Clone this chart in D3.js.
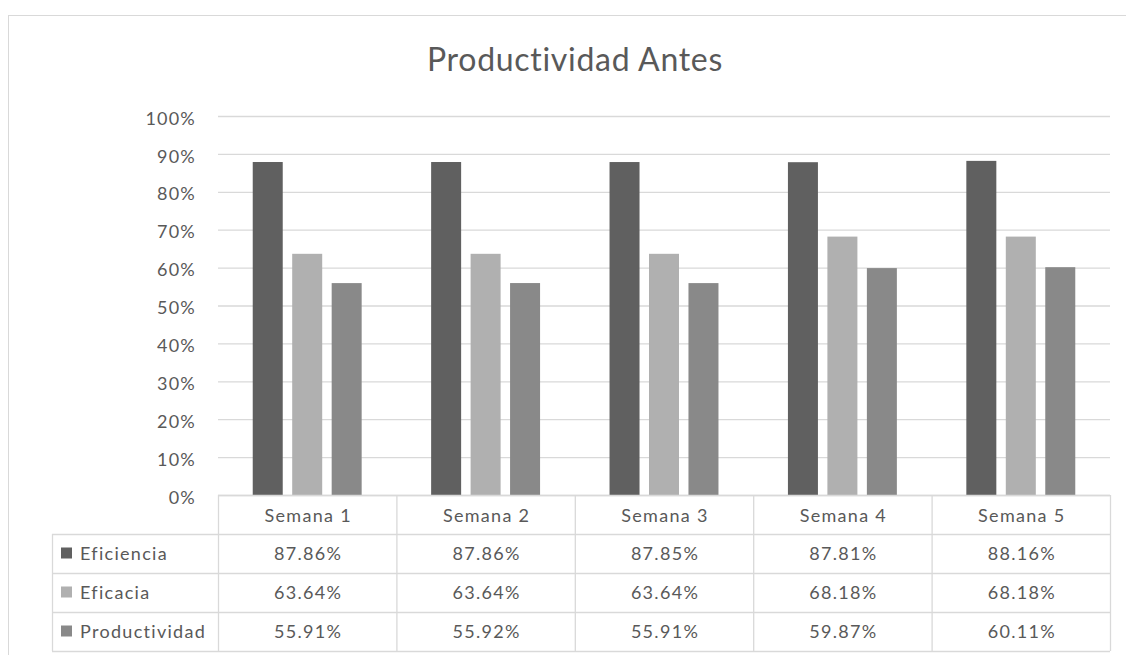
<!DOCTYPE html>
<html>
<head>
<meta charset="utf-8">
<script src="https://cdn.jsdelivr.net/npm/d3@7"></script>
<style>
  html, body { margin: 0; padding: 0; background: #ffffff; }
  svg { display: block; }
  text { font-family: Lato, "Open Sans", sans-serif; }
</style>
</head>
<body>
<svg id="chart" width="1126" height="655"></svg>
<script>
// Weekly productivity indicators (percent)
const weeks = ["Semana 1", "Semana 2", "Semana 3", "Semana 4", "Semana 5"];
const seriesNames = ["Eficiencia", "Eficacia", "Productividad"];
const eficiencia = [87.86, 87.86, 87.85, 87.81, 88.16];
const eficacia = [63.64, 63.64, 63.64, 68.18, 68.18];
const productividad = [55.91, 55.92, 55.91, 59.87, 60.11];
const yTicks = [0, 10, 20, 30, 40, 50, 60, 70, 80, 90, 100];
const colors = ["#606060", "#b0b0b0", "#898989"];
const chartTitle = "Productividad Antes";

const seriesValues = [eficiencia, eficacia, productividad];

const svg = d3.select("#chart");
const W = 1126, H = 655;

const plot = { left: 218, right: 1110, top: 116, bottom: 495 };
const rowH = 39;
const legendLeft = 52;
const textColor = "#595959";
const gridColor = "#d9d9d9";

// Outer chart frame
svg.append("rect")
  .attr("x", 8.5).attr("y", 15.5)
  .attr("width", W + 20).attr("height", H + 20)
  .attr("fill", "none").attr("stroke", gridColor).attr("stroke-width", 1);

// Title
svg.append("text")
  .attr("x", 575).attr("y", 71)
  .attr("text-anchor", "middle")
  .attr("font-size", 32)
  .attr("letter-spacing", 0.7)
  .attr("fill", textColor)
  .text(chartTitle);

const x = d3.scaleBand().domain(weeks).range([plot.left, plot.right]);
const xInner = d3.scaleBand().domain(seriesNames).range([0, x.bandwidth()])
  .paddingInner(0.24).paddingOuter(0.88);
const y = d3.scaleLinear().domain([0, 100]).range([plot.bottom, plot.top]);

// Gridlines and y labels
const yAxis = d3.axisLeft(y)
  .tickValues(yTicks)
  .tickSize(-(plot.right - plot.left))
  .tickPadding(22)
  .tickFormat(d => d + "%");

const gy = svg.append("g")
  .attr("transform", `translate(${plot.left},0)`)
  .call(yAxis);
gy.select(".domain").remove();
gy.selectAll(".tick line").attr("stroke", gridColor).attr("stroke-width", 1.3);
gy.selectAll(".tick text")
  .attr("fill", textColor)
  .attr("font-size", 18)
  .attr("letter-spacing", 1.2)
  .attr("font-family", "Lato, sans-serif")
  .attr("dy", "0.45em");

// Bars
const groups = svg.append("g").selectAll("g")
  .data(weeks)
  .join("g")
  .attr("transform", d => `translate(${x(d)},0)`);

groups.selectAll("rect")
  .data((w, i) => seriesNames.map((s, k) => ({ s, k, v: seriesValues[k][i] })))
  .join("rect")
  .attr("x", d => xInner(d.s))
  .attr("width", xInner.bandwidth())
  .attr("y", d => y(d.v))
  .attr("height", d => y(0) - y(d.v))
  .attr("fill", d => colors[d.k]);

// Data table below the plot
const table = svg.append("g");
const tableBottom = plot.bottom + rowH * 4;
const hLine = (x1, x2, yy) => table.append("line")
  .attr("x1", x1).attr("x2", x2).attr("y1", yy).attr("y2", yy)
  .attr("stroke", gridColor).attr("stroke-width", 1.3);
const vLine = (xx, y1, y2) => table.append("line")
  .attr("x1", xx).attr("x2", xx).attr("y1", y1).attr("y2", y2)
  .attr("stroke", gridColor).attr("stroke-width", 1.3);

hLine(plot.left, plot.right, plot.bottom + 0.5);
for (let r = 1; r <= 4; r++) hLine(legendLeft, plot.right, plot.bottom + rowH * r + 0.5);
vLine(legendLeft + 0.5, plot.bottom + rowH, tableBottom);
weeks.forEach(w => vLine(x(w) + 0.5, plot.bottom, tableBottom));
vLine(plot.right + 0.5, plot.bottom, tableBottom);

const cellText = sel => sel
  .attr("font-size", 18)
  .attr("letter-spacing", 1.3)
  .attr("fill", textColor)
  .attr("dy", "0.36em");

// Header: week names
table.selectAll("text.head")
  .data(weeks)
  .join("text")
  .attr("class", "head")
  .attr("x", d => x(d) + x.bandwidth() / 2 + 1)
  .attr("y", plot.bottom + rowH / 2 + 1)
  .attr("text-anchor", "middle")
  .call(cellText)
  .text(d => d);

// Series rows: legend key, name and values
seriesNames.forEach((s, k) => {
  const cy = plot.bottom + rowH * (k + 1) + rowH / 2;
  table.append("rect")
    .attr("x", 61).attr("y", cy - 6)
    .attr("width", 11).attr("height", 11)
    .attr("fill", colors[k]);
  table.append("text")
    .attr("x", 80).attr("y", cy)
    .call(cellText)
    .text(s);
  table.selectAll("text.v" + k)
    .data(seriesValues[k])
    .join("text")
    .attr("class", "v" + k)
    .attr("x", (d, i) => x(weeks[i]) + x.bandwidth() / 2 + 1)
    .attr("y", cy)
    .attr("text-anchor", "middle")
    .call(cellText)
    .text(d => d.toFixed(2) + "%");
});
</script>
</body>
</html>
